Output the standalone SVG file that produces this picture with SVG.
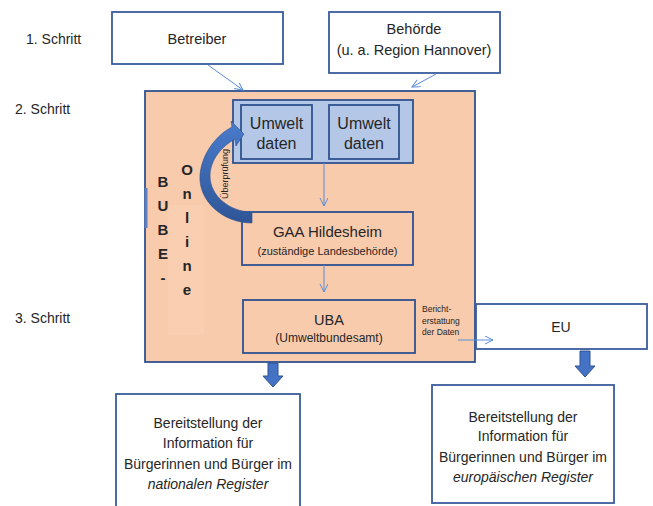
<svg xmlns="http://www.w3.org/2000/svg" width="653" height="506" viewBox="0 0 653 506">
<style>
text{font-family:"Liberation Sans",Arial,sans-serif;fill:#262626}
.box{fill:#fff;stroke:#3A5C9C;stroke-width:1.8}
.peach{fill:#F8CBAD;stroke:#2F528F;stroke-width:1.8}
.blue{fill:#B4C7E7;stroke:#2F528F;stroke-width:1.8}
.conn{stroke:#5B8BD6;stroke-width:1;fill:none}
.block{fill:#4472C4;stroke:#2F528F;stroke-width:1}
.c{text-anchor:middle}
.bube{font-weight:bold;font-size:15px;text-anchor:middle}
</style>
<defs>
<marker id="open" markerWidth="10" markerHeight="10" refX="8" refY="4" orient="auto" markerUnits="userSpaceOnUse">
<path d="M0,0 L8,4 L0,8" fill="none" stroke="#5B8BD6" stroke-width="1"/>
</marker>
<linearGradient id="ag" x1="0" y1="0" x2="0" y2="1">
<stop offset="0" stop-color="#4A7CCB"/>
<stop offset="1" stop-color="#2F5597"/>
</linearGradient>
</defs>

<g id="labels">
<text x="26" y="44" font-size="14">1. Schritt</text>
<text x="15" y="114" font-size="14">2. Schritt</text>
<text x="15" y="323" font-size="14">3. Schritt</text>
</g>

<g id="betreiber">
<rect class="box" x="112" y="12" width="171" height="52"/>
<text class="c" x="197" y="44" font-size="14.5">Betreiber</text>
</g>

<g id="behoerde">
<rect class="box" x="329" y="12" width="171" height="61"/>
<text class="c" x="414" y="34" font-size="14.5">Behörde</text>
<text class="c" x="414" y="55" font-size="14.5">(u. a. Region Hannover)</text>
</g>

<g id="bube-online">
<rect class="peach" x="145" y="91" width="330" height="271"/>
<rect x="168" y="205" width="36" height="130" fill="#F9CEB1"/>
<line x1="146" y1="188" x2="146" y2="228" stroke="#5B7FC0" stroke-width="3"/>
<text class="bube" x="163" y="187">B</text>
<text class="bube" x="163" y="211">U</text>
<text class="bube" x="163" y="235">B</text>
<text class="bube" x="163" y="259">E</text>
<text class="bube" x="163" y="283">-</text>
<text class="bube" x="187" y="175">O</text>
<text class="bube" x="187" y="199">n</text>
<text class="bube" x="187" y="223">l</text>
<text class="bube" x="187" y="247">i</text>
<text class="bube" x="187" y="271">n</text>
<text class="bube" x="187" y="295">e</text>
</g>

<g id="umweltdaten">
<rect class="blue" x="233" y="100" width="180" height="63"/>
<rect class="blue" x="241" y="105" width="71" height="54"/>
<rect class="blue" x="329" y="105" width="70" height="54"/>
<text class="c" x="276.5" y="129" font-size="16">Umwelt</text>
<text class="c" x="276.5" y="149" font-size="16">daten</text>
<text class="c" x="364" y="129" font-size="16">Umwelt</text>
<text class="c" x="364" y="149" font-size="16">daten</text>
</g>

<g id="gaa">
<rect class="peach" x="242" y="212" width="171" height="53"/>
<text class="c" x="327.5" y="237" font-size="15">GAA Hildesheim</text>
<text class="c" x="327.5" y="255" font-size="11">(zuständige Landesbehörde)</text>
</g>

<g id="uba">
<rect class="peach" x="243" y="300" width="172" height="53"/>
<text class="c" x="329" y="325" font-size="14.5">UBA</text>
<text class="c" x="329" y="342" font-size="12">(Umweltbundesamt)</text>
</g>

<g id="ueberpruefung">
<path d="M 252 223 C 222 223, 198 200, 200 175 C 202 152, 218 134, 232 127 L 231 121 L 244 134 L 236 146 L 235 139 C 222 146, 210 160, 210 176 C 210 196, 230 212, 252 212 Z" fill="url(#ag)" stroke="#2F528F" stroke-width="0.6"/>
<text transform="translate(228,174) rotate(-90)" class="c" font-size="9">Überprüfung</text>
</g>

<g id="eu">
<rect class="box" x="476" y="304" width="171" height="45"/>
<text class="c" x="561" y="332" font-size="14">EU</text>
</g>

<g id="bericht">
<text x="422" y="312" font-size="8.5">Bericht-</text>
<text x="422" y="324" font-size="8.5">erstattung</text>
<text x="422" y="335" font-size="8.5">der Daten</text>
</g>

<g id="national">
<rect class="box" x="116" y="394" width="184" height="120"/>
<text class="c" x="208" y="428" font-size="14">Bereitstellung der</text>
<text class="c" x="208" y="448" font-size="14">Information für</text>
<text class="c" x="208" y="469" font-size="14">Bürgerinnen und Bürger im</text>
<text class="c" x="208" y="489" font-size="14" font-style="italic">nationalen Register</text>
</g>

<g id="europaeisch">
<rect class="box" x="432" y="385" width="182" height="118"/>
<text class="c" x="523" y="422" font-size="14">Bereitstellung der</text>
<text class="c" x="523" y="441" font-size="14">Information für</text>
<text class="c" x="523" y="462" font-size="14">Bürgerinnen und Bürger im</text>
<text class="c" x="523" y="482" font-size="14" font-style="italic">europäischen Register</text>
</g>

<g id="connectors">
<line class="conn" x1="208" y1="65" x2="243" y2="90" marker-end="url(#open)"/>
<line class="conn" x1="436" y1="74" x2="412" y2="87" marker-end="url(#open)"/>
<line class="conn" x1="324" y1="163" x2="324" y2="206" marker-end="url(#open)"/>
<line class="conn" x1="324" y1="265" x2="324" y2="292" marker-end="url(#open)"/>
<line class="conn" x1="458" y1="340" x2="493" y2="340" marker-end="url(#open)"/>
<polygon class="block" points="268,363 278,363 278,376 283,376 273,387 263,376 268,376"/>
<polygon class="block" points="580,351 590,351 590,366 595,366 585,377 575,366 580,366"/>
</g>
</svg>
